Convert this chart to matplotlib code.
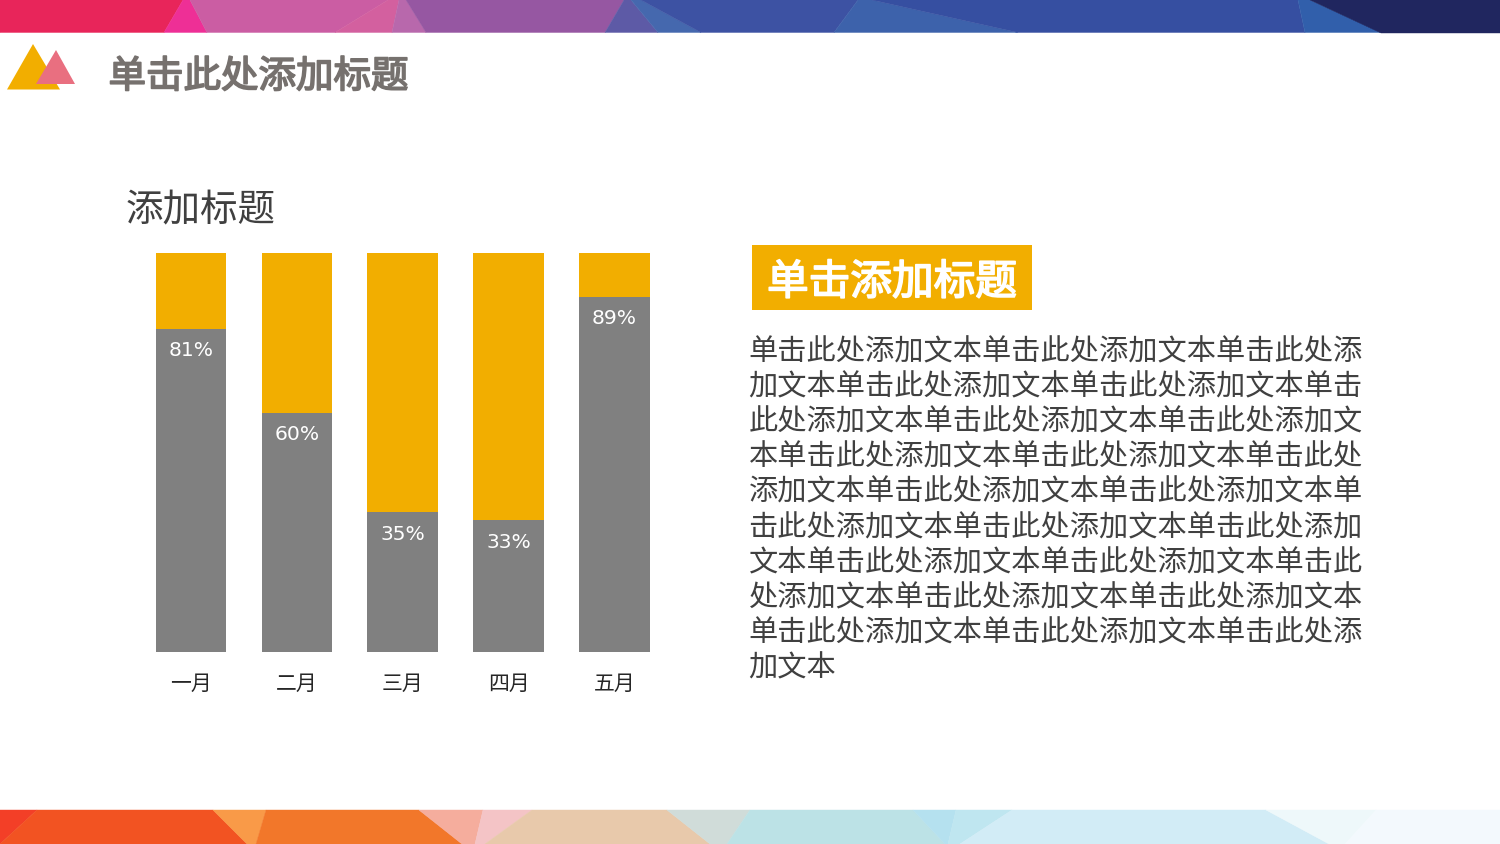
import matplotlib
matplotlib.use('Agg')
import matplotlib.pyplot as plt
import matplotlib.patheffects as pe
from matplotlib.patches import Polygon, Rectangle

plt.rcParams['font.family'] = ['Noto Sans CJK SC', 'DejaVu Sans']

meses = ['一月', '二月', '三月', '四月', '五月']
cinza = [81, 60, 35, 33, 89]
laranja = [19, 40, 65, 67, 11]
rotulos = ['81%', '60%', '35%', '33%', '89%']

titulo = '单击此处添加标题'
subtitulo = '添加标题'
caixa = '单击添加标题'
linhas = [
    '单击此处添加文本单击此处添加文本单击此处添',
    '加文本单击此处添加文本单击此处添加文本单击',
    '此处添加文本单击此处添加文本单击此处添加文',
    '本单击此处添加文本单击此处添加文本单击此处',
    '添加文本单击此处添加文本单击此处添加文本单',
    '击此处添加文本单击此处添加文本单击此处添加',
    '文本单击此处添加文本单击此处添加文本单击此',
    '处添加文本单击此处添加文本单击此处添加文本',
    '单击此处添加文本单击此处添加文本单击此处添',
    '加文本',
]

# faixas decorativas, em pixels da imagem
topo = [
    ([(0, 0), (183, 0), (164, 32.5), (0, 32.5)], '#e8255a'),
    ([(183, 0), (190, 0), (207, 32.5), (164, 32.5)], '#ee2f96'),
    ([(190, 0), (388, 0), (335, 32.5), (207, 32.5)], '#cb5da3'),
    ([(388, 0), (399, 0), (392, 32.5), (335, 32.5)], '#d3609f'),
    ([(399, 0), (406, 0), (426, 32.5), (392, 32.5)], '#b868ac'),
    ([(406, 0), (624, 0), (605, 32.5), (426, 32.5)], '#9657a2'),
    ([(624, 0), (631, 0), (658, 32.5), (605, 32.5)], '#5d5aa6'),
    ([(631, 0), (641, 0), (701, 32.5), (658, 32.5)], '#4568ae'),
    ([(641, 0), (858, 0), (834, 32.5), (701, 32.5)], '#3d52a3'),
    ([(858, 0), (872, 0), (1018, 32.5), (834, 32.5)], '#3d62ab'),
    ([(872, 0), (1298, 0), (1305, 32.5), (1018, 32.5)], '#364fa1'),
    ([(1298, 0), (1310, 0), (1381, 32.5), (1305, 32.5)], '#315fab'),
    ([(1310, 0), (1500, 0), (1500, 32.5), (1381, 32.5)], '#20265f'),
]
base = [
    ([(0, 810), (37, 810), (0, 844)], '#f33f27'),
    ([(37, 810), (213, 810), (247, 844), (0, 844)], '#f25322'),
    ([(213, 810), (266, 810), (256, 844), (247, 844)], '#f99a48'),
    ([(266, 810), (419, 810), (462, 844), (256, 844)], '#f2772a'),
    ([(419, 810), (483, 810), (475, 844), (462, 844)], '#f5ad9d'),
    ([(483, 810), (532, 810), (485, 844), (475, 844)], '#f4c4c6'),
    ([(532, 810), (667, 810), (710, 844), (485, 844)], '#e8c9ab'),
    ([(667, 810), (750, 810), (727, 844), (710, 844)], '#d0dcd9'),
    ([(750, 810), (913, 810), (945, 844), (727, 844)], '#bce2e6'),
    ([(913, 810), (956, 810), (948, 844), (945, 844)], '#b5e1ef'),
    ([(956, 810), (1012, 810), (960, 844), (948, 844)], '#bfe6f0'),
    ([(1012, 810), (1266, 810), (1329, 844), (960, 844)], '#d2ecf6'),
    ([(1266, 810), (1376, 810), (1345, 844), (1329, 844)], '#eef8fa'),
    ([(1376, 810), (1500, 810), (1500, 844), (1345, 844)], '#f3f9fd'),
]

fig = plt.figure(figsize=(15, 8.44), dpi=100)

fundo = fig.add_axes([0, 0, 1, 1])
fundo.set_xlim(0, 1500)
fundo.set_ylim(844, 0)
fundo.axis('off')

for pts, cor in topo + base:
    fundo.add_patch(Polygon(pts, closed=True, facecolor=cor, edgecolor=cor, linewidth=0.3))

# logo
fundo.add_patch(Polygon([(7, 89.5), (33, 44), (60, 89.5)], closed=True, facecolor='#f2ae00', edgecolor='none'))
fundo.add_patch(Polygon([(36, 84), (56, 50), (75, 84)], closed=True, facecolor='#e96f80', edgecolor='none'))

fundo.text(108.5, 77, titulo, fontsize=27, color='#76716e', va='center', ha='left',
           path_effects=[pe.withStroke(linewidth=1.2, foreground='#76716e')])
fundo.text(126, 211, subtitulo, fontsize=27, color='#404040', va='center', ha='left')

fundo.add_patch(Rectangle((752, 245), 280, 65, facecolor='#f2ae00', edgecolor='none'))
fundo.text(767, 283, caixa, fontsize=30, color='white', va='center', ha='left',
           path_effects=[pe.withStroke(linewidth=1.2, foreground='white')])

y = 352.5
for linha in linhas:
    fundo.text(748.5, y, linha, fontsize=21.05, color='#404040', va='center', ha='left')
    y += 35.1

ax = fig.add_axes([138.2 / 1500, 1 - 652 / 844, 529 / 1500, 398.7 / 844])
ax.patch.set_alpha(0)
x = range(len(meses))
barras = ax.bar(x, cinza, width=0.667, color='#808080')
ax.bar(x, laranja, width=0.667, bottom=cinza, color='#f2ae00')
ax.bar_label(barras, labels=rotulos, padding=-22.5, color='white', fontsize=14.6, family='DejaVu Sans')
ax.set_xlim(-0.5, 4.5)
ax.set_ylim(0, 100)
ax.set_xticks(list(x))
ax.set_xticklabels(meses, fontsize=15, color='#262626')
ax.set_yticks([])
ax.tick_params(axis='x', length=0, pad=14.8)
for lado in ax.spines.values():
    lado.set_visible(False)

fig.savefig('out.png', dpi=100)
